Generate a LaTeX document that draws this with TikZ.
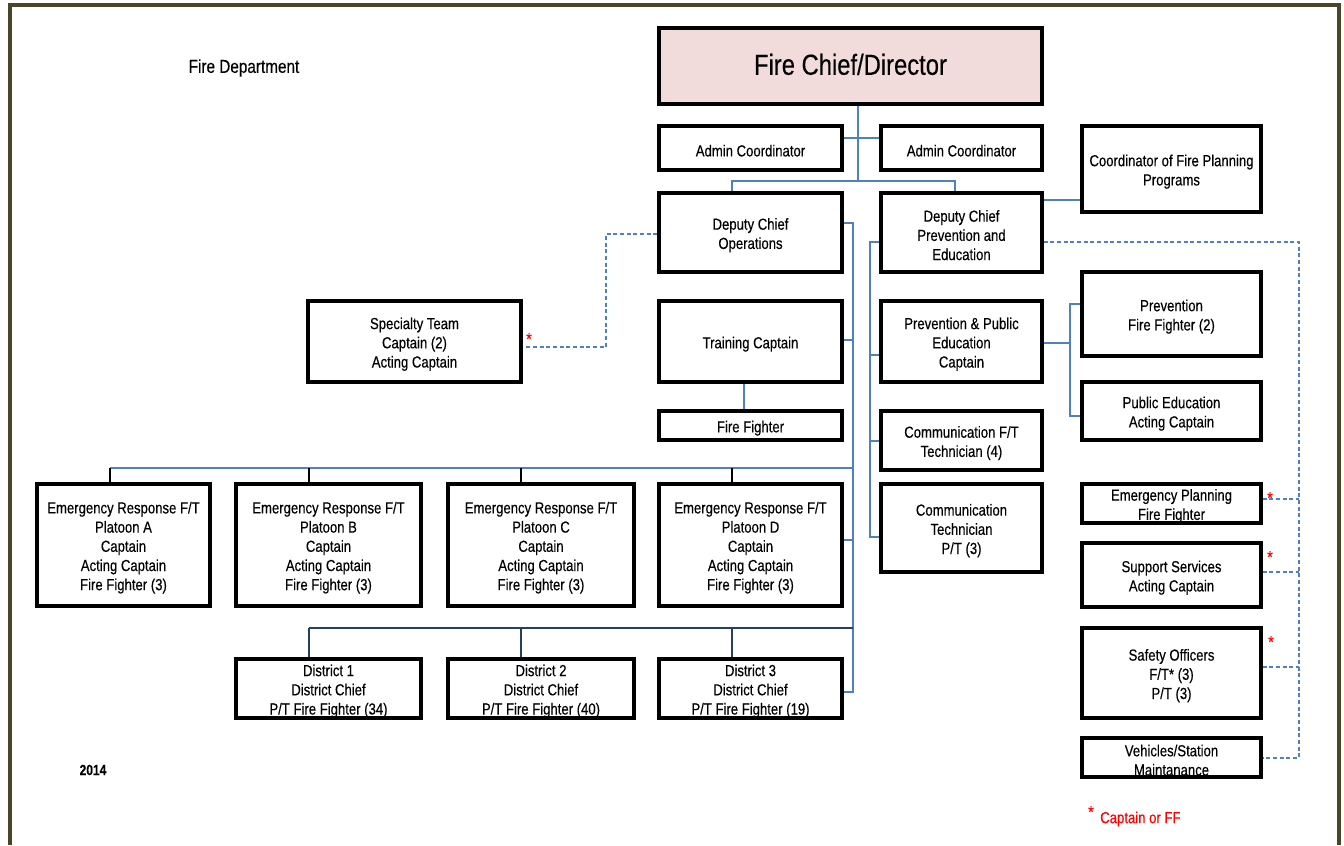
\documentclass[tikz,border=0pt]{standalone}
\usepackage{fontspec}
\setmainfont{Liberation Sans}[FakeStretch=0.82,FakeBold=0.3]
\definecolor{framecol}{RGB}{74,68,42}
\definecolor{conncol}{RGB}{79,129,189}
\definecolor{navycol}{RGB}{36,63,96}
\definecolor{chieffill}{RGB}{242,220,219}
\definecolor{starred}{RGB}{255,0,0}
\tikzset{
 box/.style={draw=black, line width=2.6pt, inner sep=0pt, fill=white},
 boxtext/.style={align=center, inner sep=0pt, font=\fontsize{12}{14.4}\selectfont, yshift=-2pt},
 conn/.style={draw=conncol, line width=0.9pt},
 dconn/.style={draw=conncol, line width=0.9pt, dash pattern=on 3pt off 2pt},
 drop/.style={draw=black, line width=1.2pt},
 ddrop/.style={draw=navycol, line width=1.2pt},
 starmark/.style={text=starred, font=\fontsize{13}{13}\selectfont, inner sep=0pt},
 plain/.style={inner sep=0pt, font=\fontsize{12}{14.4}\selectfont},
}
\newcommand\bx[7][]{\node[box, minimum width={(#4-#2)*0.75pt}, minimum height={(#5-#3)*0.75pt}] (#6) at ({(#2+#4)/2},{(#3+#5)/2}) {};
\node[boxtext, #1] (#6-t) at (#6.center) {#7};}
\begin{document}
\begin{tikzpicture}[x=0.75pt,y=-0.75pt]
\useasboundingbox (0,0) rectangle (1344,845);
% frame
\fill[framecol] (7.5,3.5) rectangle (11.5,845);
\fill[framecol] (7.5,3.5) rectangle (1340.5,7.5);
\fill[framecol] (1336.5,3.5) rectangle (1340.5,845);

% boxes
\node[box, fill=chieffill, minimum width={383*0.75pt}, minimum height={76*0.75pt}] (chief) at (850.5,66) {};
\node[boxtext, yshift=3.2pt, font=\fontsize{21.75}{24}\selectfont] (chief-t) at (chief.center) {Fire Chief/Director};
\bx{659}{126}{842}{170}{adm1}{Admin Coordinator}
\bx{881}{126}{1042}{170}{adm2}{Admin Coordinator}
\bx{1082}{126}{1261}{212}{coord}{Coordinator of Fire Planning\\Programs}
\bx{659}{193}{842}{272}{dco}{Deputy Chief\\Operations}
\bx{881}{193}{1042}{272}{dcp}{Deputy Chief\\Prevention and\\Education}
\bx{308}{301}{521}{382}{spec}{Specialty Team\\Captain (2)\\Acting Captain}
\bx{659}{301}{842}{382}{tc}{Training Captain}
\bx{659}{411}{842}{440}{ff}{Fire Fighter}
\bx{881}{301}{1042}{382}{ppe}{Prevention \& Public\\Education\\Captain}
\bx{1082}{272}{1261}{356}{pff}{Prevention\\Fire Fighter (2)}
\bx{1082}{382}{1261}{440}{pub}{Public Education\\Acting Captain}
\bx{881}{411}{1042}{470}{cft}{Communication F/T\\Technician (4)}
\bx{881}{484}{1042}{572}{ctp}{Communication\\Technician\\P/T (3)}
\bx{1082}{484}{1261}{523}{emp}{Emergency Planning\\Fire Fighter}
\bx{1082}{543}{1261}{607}{sup}{Support Services\\Acting Captain}
\bx{1082}{628}{1261}{718}{saf}{Safety Officers\\F/T* (3)\\P/T (3)}
\bx{1082}{738}{1261}{777}{veh}{Vehicles/Station\\Maintanance}
\bx{37}{484}{210}{606}{pA}{Emergency Response F/T\\Platoon A\\Captain\\Acting Captain\\Fire Fighter (3)}
\bx{236}{484}{421}{606}{pB}{Emergency Response F/T\\Platoon B\\Captain\\Acting Captain\\Fire Fighter (3)}
\bx{448}{484}{634}{606}{pC}{Emergency Response F/T\\Platoon C\\Captain\\Acting Captain\\Fire Fighter (3)}
\bx{659}{484}{842}{606}{pD}{Emergency Response F/T\\Platoon D\\Captain\\Acting Captain\\Fire Fighter (3)}
\bx{236}{659}{421}{718}{d1}{District 1\\District Chief\\P/T Fire Fighter (34)}
\bx{448}{659}{634}{718}{d2}{District 2\\District Chief\\P/T Fire Fighter (40)}
\bx{659}{659}{842}{718}{d3}{District 3\\District Chief\\P/T Fire Fighter (19)}

% texts
\node[plain, font=\fontsize{14}{16}\selectfont] (title) at (244,68) {Fire Department};
\node[plain, font=\bfseries\fontsize{11}{13}\selectfont] (year) at (93,770) {2014};
\node[starmark] (legstar) at (1091,812) {*};
\node[plain, text=starred, anchor=west] (legtext) at (1100,819) {Captain or FF};
\node[starmark] (s1) at (529,339) {*};
\node[starmark] (s2) at (1270,498) {*};
\node[starmark] (s3) at (1270,557) {*};
\node[starmark] (s4) at (1271,642) {*};

% connectors
\draw[conn] (chief.south -| 858,0) -- (858,181);
\draw[conn] (adm1.east |- 0,138) -- (adm2.west |- 0,138);
\draw[conn] (dco.north -| 732,0) -- (732,181) -- (955,181) -- (dcp.north -| 955,0);
\draw[conn] (dcp.east |- 0,200) -- (coord.west |- 0,200);
\draw[conn] (dco.east |- 0,223) -- (853,223) -- (853,692) -- (d3.east |- 0,692);
\draw[conn] (tc.east |- 0,340) -- (853,340);
\draw[conn] (853,468) -- (110,468);
\draw[drop] (110,468) -- (pA.north -| 110,0);
\draw[drop] (309,468) -- (pB.north -| 309,0);
\draw[drop] (521,468) -- (pC.north -| 521,0);
\draw[drop] (732,468) -- (pD.north -| 732,0);
\draw[conn] (pD.east |- 0,540) -- (853,540);
\draw[ddrop] (853,628) -- (309,628);
\draw[ddrop] (309,628) -- (d1.north -| 309,0);
\draw[ddrop] (521,628) -- (d2.north -| 521,0);
\draw[ddrop] (732,628) -- (d3.north -| 732,0);
\draw[conn] (tc.south -| 744,0) -- (ff.north -| 744,0);
\draw[conn] (dcp.west |- 0,242) -- (870,242) -- (870,537) -- (ctp.west |- 0,537);
\draw[conn] (ppe.west |- 0,355) -- (870,355);
\draw[conn] (cft.west |- 0,441) -- (870,441);
\draw[conn] (ppe.east |- 0,343) -- (1070,343);
\draw[conn] (pff.west |- 0,304) -- (1070,304) -- (1070,416) -- (pub.west |- 0,416);
\draw[dconn] (dco.west |- 0,234) -- (606,234) -- (606,347) -- (526,347);
\draw[dconn] (dcp.east |- 0,242) -- (1299,242) -- (1299,758) -- (veh.east |- 0,758);
\draw[dconn] (emp.east |- 0,499) -- (1299,499);
\draw[dconn] (sup.east |- 0,572) -- (1299,572);
\draw[dconn] (saf.east |- 0,667) -- (1299,667);
\end{tikzpicture}
\end{document}
